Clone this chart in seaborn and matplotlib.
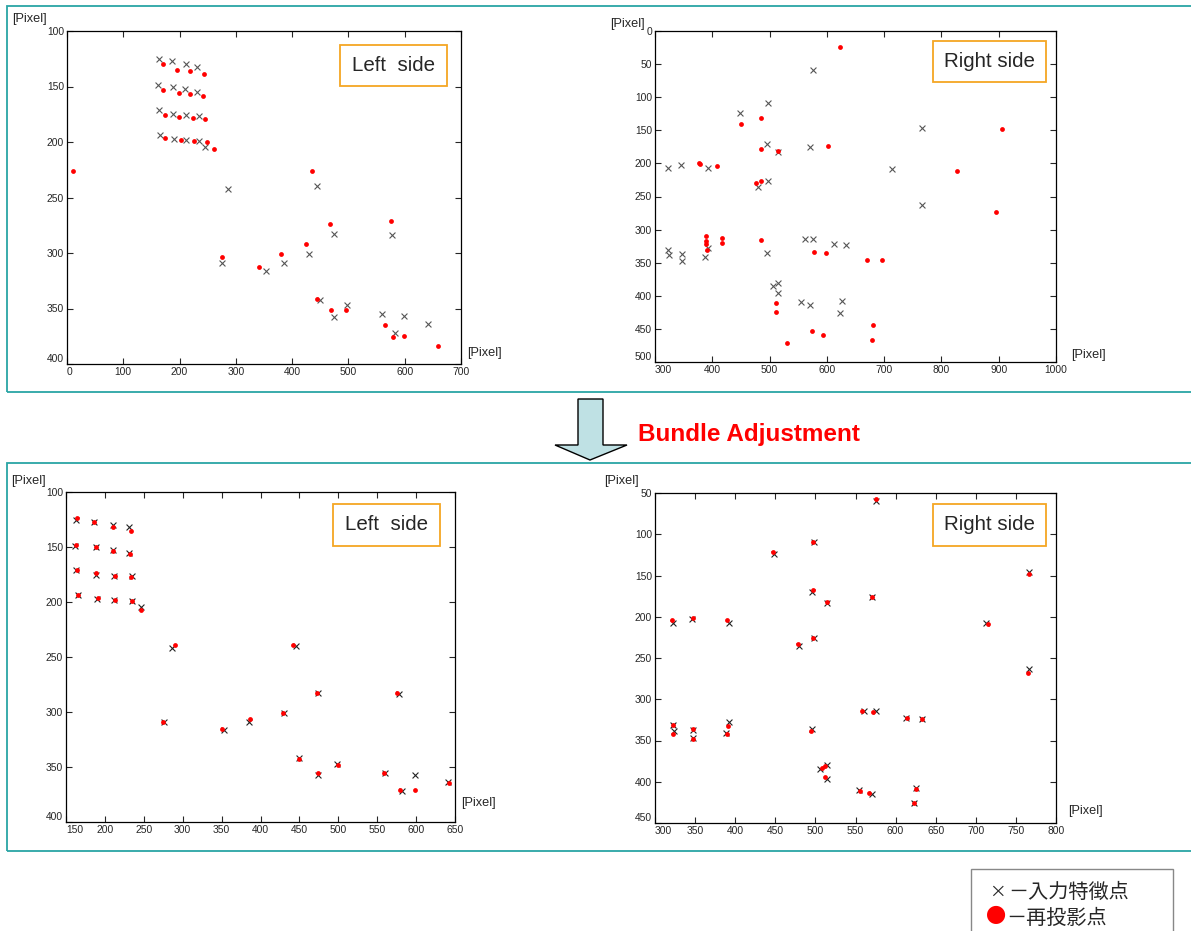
import numpy as np
import pandas as pd
import matplotlib
matplotlib.use("Agg")
import matplotlib.pyplot as plt
from matplotlib.patches import Rectangle, Polygon
from matplotlib import font_manager
import seaborn as sns

# 入力特徴点 (左カメラ)
left_in_x = [163, 186, 211, 231, 162, 188, 210, 231, 163, 189, 212, 235, 165, 190, 212, 235,
             246, 286, 276, 353, 385, 430, 445, 474, 450, 474, 498, 560, 578, 582, 599, 641]
left_in_y = [125, 127, 130, 132, 149, 150, 152.5, 155, 171, 175, 176, 176.5, 193.5, 197, 198, 199.5,
             204.5, 242, 309, 316, 309, 300.5, 240, 282.5, 342, 357.5, 347, 355, 284, 372, 357, 364]

# 再投影点 (左, BA前)
left_before_x = [10, 171, 196, 218, 243, 171, 199, 219, 242, 174, 199, 223, 245, 174, 202, 225,
                 248, 261.5, 276, 341, 381, 425, 435, 467, 445, 469, 496, 575, 564.5, 579, 598, 660]
left_before_y = [226, 130, 135.5, 136, 138.5, 153.5, 156, 157, 158.5, 176, 177.5, 178.5, 179, 196.5, 198, 199,
                 200, 206.5, 304, 313, 300.5, 291.5, 226, 273.5, 341.5, 351.5, 351.5, 271, 364.5, 376, 375, 383.5]

# 再投影点 (左, BA後)
left_after_x = [164, 186, 210, 233, 163, 189, 211, 232, 164, 189, 213, 234, 165, 191, 213, 235,
                247, 290, 275, 350, 386, 429, 442, 473, 450, 474, 499, 559, 576, 579, 599, 642]
left_after_y = [124, 127.5, 132, 135.5, 148, 150, 153.5, 156.5, 171, 174, 176, 177.5, 193.5, 196, 198, 199.5,
                207, 239.5, 309, 315.5, 306.5, 300.5, 239, 283, 343, 355.5, 348.5, 355.5, 282.5, 370.5, 370.5, 364.5]

# 入力特徴点 (右カメラ)
right_in_x = [575, 498, 448, 496, 571, 514, 766, 322, 346, 392, 479, 498, 713, 766, 322, 324,
              347, 347, 392, 388, 496, 561, 575, 613, 633, 506, 514, 514, 554, 571, 626, 623]
right_in_y = [59.5, 109.5, 124.5, 170, 175.5, 183.5, 146, 207, 202.5, 207, 235, 226, 208, 263.5, 331.5, 339,
              337, 347, 328, 341.5, 336, 314, 314, 322.5, 323.5, 384.5, 380, 396.5, 410, 414.5, 408, 425.5]

# 再投影点 (右, BA前)
right_before_x = [623, 484.5, 449.5, 484.5, 514.5, 602, 906, 377, 378, 409, 476, 484.5, 827, 896, 388.5, 389.5,
                  388.5, 390, 417.5, 416.5, 484.5, 578, 598.5, 670, 696, 510.5, 510.5, 530, 573.5, 592.5, 681, 678]
right_before_y = [23.5, 131, 140.5, 179, 181, 174, 147.5, 199, 201, 203.5, 229, 226, 212, 274, 309.5, 317.5,
                  321.5, 331.5, 312, 319.5, 315.5, 334.5, 336, 346, 346, 410.5, 424.5, 472, 453, 458.5, 444.5, 467]

# 再投影点 (右, BA後)
right_after_x = [576, 497.5, 447.5, 496.5, 571, 514, 766, 321.5, 347, 390, 478.5, 497.5, 715.5, 765.5, 323, 323,
                 348, 348, 391, 390, 494.5, 558.5, 571.5, 614, 633, 508.5, 511.5, 512, 555, 567, 626, 623.5]
right_after_y = [57.5, 109.5, 121.5, 168, 176, 182.5, 148, 204.5, 202, 204.5, 233, 225.5, 208.5, 268, 331.5, 342,
                 336.5, 348, 332, 342, 339, 314.5, 316, 322.5, 324, 383, 381, 394.5, 411.5, 413.5, 408.5, 426]

W, H = 1191, 931
TEAL = "#2aa5a5"
ORANGE = "#f5a623"

sns.set_style("ticks")
names = {f.name for f in font_manager.fontManager.ttflist}
narrow = "Liberation Sans Narrow" in names
base_font = "Liberation Sans Narrow" if narrow else "Liberation Sans"
plt.rcParams["font.family"] = [base_font, "DejaVu Sans"]
scale = 1.0 if narrow else 0.92

fig = plt.figure(figsize=(W / 100, H / 100), dpi=100)


def fx(x):
    return x / W


def fy(y):
    return 1 - y / H


def add_axes_px(l, t, r, b):
    return fig.add_axes([l / W, 1 - b / H, (r - l) / W, (b - t) / H])


def draw_panel(ax, in_x, in_y, rp_x, rp_y, xlim, ylim, xstep, ystep, dark):
    sns.scatterplot(x=in_x, y=in_y, marker="x", color="#222222" if dark else "#555555",
                    s=18, linewidth=0.8, ax=ax, zorder=3)
    sns.scatterplot(x=rp_x, y=rp_y, marker="o", color="#ff0000", s=12, linewidth=0,
                    ax=ax, zorder=4)
    ax.set_xlim(*xlim)
    ax.set_ylim(ylim[1], ylim[0])
    ax.set_xticks(np.arange(xlim[0], xlim[1] + 1, xstep))
    ax.set_yticks(np.arange(ylim[0], ylim[1] + 1, ystep))
    ax.set_xlabel("")
    ax.set_ylabel("")
    ax.tick_params(direction="in", top=True, right=True, length=4, width=0.8,
                   labelsize=8 * scale, pad=2)
    # 左下隅で目盛ラベルが重ならないよう少しずらす
    ax.get_yticklabels()[-1].set_va("bottom")
    ax.get_xticklabels()[0].set_ha("left")
    for sp in ax.spines.values():
        sp.set_linewidth(0.9)
        sp.set_color("black")


def side_box(l, t, r, b, label):
    fig.patches.append(Rectangle((fx(l), fy(b)), (r - l) / W, (b - t) / H, transform=fig.transFigure,
                                 facecolor="white", edgecolor=ORANGE, linewidth=1.3, zorder=10))
    fig.text(fx((l + r) / 2), fy((t + b) / 2), label, ha="center", va="center",
             fontsize=16 * scale, zorder=11)


# 外枠 (上下)
for t, b in [(6, 392), (463, 851)]:
    fig.patches.append(Rectangle((fx(7), fy(b)), (W + 5 - 7) / W, (b - t) / H, transform=fig.transFigure,
                                 facecolor="none", edgecolor=TEAL, linewidth=1.3))

ax_tl = add_axes_px(67, 31, 461, 364)
draw_panel(ax_tl, left_in_x, left_in_y, left_before_x, left_before_y, (0, 700), (100, 400), 100, 50, False)
ax_tr = add_axes_px(655, 31, 1056, 362)
draw_panel(ax_tr, right_in_x, right_in_y, right_before_x, right_before_y, (300, 1000), (0, 500), 100, 50, False)
ax_bl = add_axes_px(66, 492, 455, 822)
draw_panel(ax_bl, left_in_x, left_in_y, left_after_x, left_after_y, (150, 650), (100, 400), 50, 50, True)
ax_br = add_axes_px(655, 493, 1056, 823)
draw_panel(ax_br, right_in_x, right_in_y, right_after_x, right_after_y, (300, 800), (50, 450), 50, 50, True)

# [Pixel] ラベル
for x, y in [(29, 19), (627, 24), (28, 481), (621, 481), (484, 353), (1088, 355), (478, 803), (1085, 811)]:
    fig.text(fx(x), fy(y), "[Pixel]", ha="center", va="center", fontsize=10 * scale)

side_box(340, 45, 447, 86, "Left  side")
side_box(933, 41, 1046, 82, "Right side")
side_box(333, 504, 440, 546, "Left  side")
side_box(933, 504, 1046, 546, "Right side")

# 矢印
arrow_px = [(578, 399), (603, 399), (603, 445), (627, 445), (590, 460), (555, 445), (578, 445)]
fig.patches.append(Polygon([(fx(x), fy(y)) for x, y in arrow_px], closed=True, transform=fig.transFigure,
                           facecolor="#bfe1e4", edgecolor="black", linewidth=1.0, zorder=12))
fig.text(fx(638), fy(434), "Bundle Adjustment", color="#ff0000", fontsize=17.5, fontweight="bold",
         family=["Liberation Sans", "DejaVu Sans"], ha="left", va="center")

# 凡例
fig.patches.append(Rectangle((fx(971), fy(940)), 202 / W, 71 / H, transform=fig.transFigure,
                             facecolor="white", edgecolor="#888888", linewidth=1.0))
cjk = ["Noto Sans CJK JP", "DejaVu Sans"]
fig.text(fx(989), fy(892), "×", fontsize=12, family=cjk, ha="left", va="center")
fig.text(fx(1008), fy(892), "－入力特徴点", fontsize=14.5, family=cjk, ha="left", va="center")
fig.text(fx(986), fy(918), "●", color="#ff0000", fontsize=14.5, family=cjk, ha="left", va="center")
fig.text(fx(1006), fy(918), "－再投影点", fontsize=14.5, family=cjk, ha="left", va="center")

fig.savefig("out.png", dpi=100)
